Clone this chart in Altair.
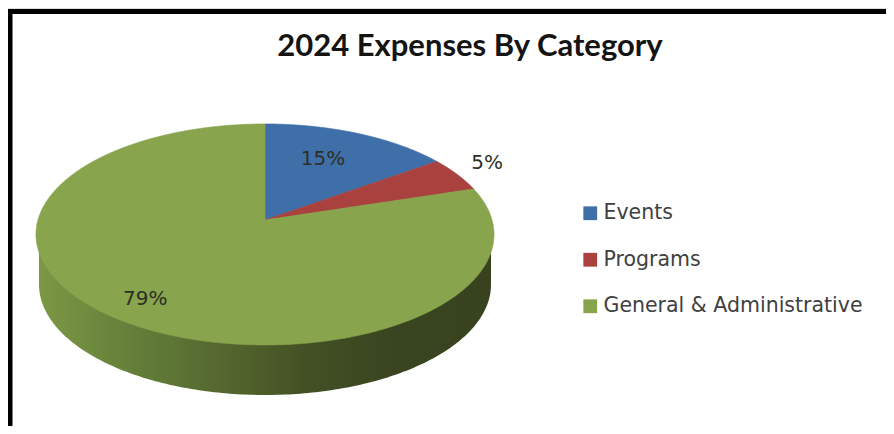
import math
import altair as alt
import pandas as pd

TITLE = "2024 Expenses By Category"
categories = ["Events", "Programs", "General & Administrative"]
percent_values = [15, 5, 79]
colors = ["#3f6fa8", "#a9423f", "#88a44c"]
label_turns = [0.068, 0.172, 0.60]    # where each label sits round the pie
label_radii = [0.665, 1.19, 0.82]     # how far out, in pie radii
side_stops = ["#7c9844", "#64803a", "#55682f", "#434f24", "#394420", "#38421e"]

# page-pixel extent of the drawing space
W, H = 878, 418
X0, Y0 = 8, 8
CX, CY = 265.0, 220.0
K, A, B = 0.131, 108.6, 227.0
DEPTH = 50.0
FACE_CY, FACE_RY = 234.5, 110.5
SIDE_RX = 226.0


def project(turn, r=1.0):
    a = turn * 2 * math.pi
    u, v = r * math.sin(a), r * math.cos(a)
    w = 1 + K * v
    return CX + B * u / w, CY - A * v / w


def wedge_rows(name, t0, t1):
    n = max(60, int((t1 - t0) * 1440))
    arc = [project(t0 + (t1 - t0) * i / n) for i in range(n + 1)]
    poly = [(CX, CY)] + arc
    grid = set(p[0] for p in arc)
    for x in (CX, arc[0][0], arc[-1][0]):
        grid.update([x - 1e-3, x + 1e-3])
    grid.update(p[0] + 1e-4 for p in arc)
    rows = []
    for x in sorted(grid):
        ys = []
        for (x1, y1), (x2, y2) in zip(poly, poly[1:] + poly[:1]):
            if (x1 <= x < x2) or (x2 <= x < x1):
                ys.append(y1 + (y2 - y1) * (x - x1) / (x2 - x1))
        if len(ys) >= 2:
            rows.append({"cat": name, "px": x, "top": min(ys), "bot": max(ys)})
    return rows


total = sum(percent_values)
wedges, turn = [], 0.0
for c, p in zip(categories, percent_values):
    wedges += wedge_rows(c, turn, turn + p / total)
    turn += p / total
wedge_df = pd.DataFrame(wedges)

side_rows = []
for i in range(0, 181):
    th = math.pi * i / 180
    side_rows.append({
        "px": CX - SIDE_RX * math.cos(th),
        "top": FACE_CY,
        "bot": FACE_CY + DEPTH + FACE_RY * math.sin(th),
    })
side_df = pd.DataFrame(side_rows)

label_rows = []
for p, t, r in zip(percent_values, label_turns, label_radii):
    x, y = project(t, r)
    label_rows.append({"txt": f"{p}%", "px": x, "py": y})
label_df = pd.DataFrame(label_rows)

frame_df = pd.DataFrame([
    {"px": 10.0, "px2": 886.0, "py": 11.5, "py2": 11.5},
    {"px": 10.0, "px2": 10.0, "py": 9.0, "py2": 426.0},
])

xs = alt.Scale(domain=[X0, X0 + W], range=[0, W])
ys = alt.Scale(domain=[Y0, Y0 + H], range=[0, H])
X = lambda f: alt.X(f, type="quantitative", scale=xs, axis=None)
Y = lambda f: alt.Y(f, type="quantitative", scale=ys, axis=None)

n = len(side_stops) - 1
side = alt.Chart(side_df).mark_area(
    opacity=1,
    fill=alt.Gradient(
        gradient="linear", x1=0, x2=1, y1=0, y2=0,
        stops=[alt.GradientStop(offset=i / n, color=c) for i, c in enumerate(side_stops)],
    ),
).encode(x=X("px"), y=Y("top"), y2=alt.Y2("bot"))

color = alt.Color(
    "cat:N",
    scale=alt.Scale(domain=categories, range=colors),
    sort=categories,
    legend=alt.Legend(
        title=None, orient="none", legendX=572, legendY=195,
        symbolType="square", symbolSize=190, symbolStrokeWidth=0, symbolOpacity=1, symbolOffset=0,
        labelFont="DejaVu Sans", labelFontSize=20.5, labelColor="#404040",
        labelOffset=3, rowPadding=25.5, labelLimit=320,
    ),
)
faces = alt.Chart(wedge_df).mark_area(opacity=1, strokeWidth=0.7).encode(
    x=X("px"), y=Y("top"), y2=alt.Y2("bot"), color=color,
    stroke=alt.Stroke("cat:N", scale=alt.Scale(domain=categories, range=colors), legend=None),
)

labels = alt.Chart(label_df).mark_text(
    font="DejaVu Sans", fontSize=20, color="#2b2f26", align="center", baseline="middle"
).encode(x=X("px"), y=Y("py"), text="txt:N")

frame = alt.Chart(frame_df).mark_rule(color="#000000", strokeWidth=5, clip=False).encode(
    x=X("px"), x2="px2:Q", y=Y("py"), y2="py2:Q"
)

chart = alt.layer(side, faces, labels, frame).properties(
    width=W, height=H, padding=0,
    autosize=alt.AutoSizeParams(type="none"),
    title=alt.TitleParams(
        TITLE, font="Lato", fontSize=31, fontWeight="bold", color="#141414",
        anchor="middle", frame="group", dx=23, dy=71, offset=0, baseline="middle",
    ),
).configure_view(stroke=None).configure(background="#ffffff")

chart.save("out.html", embed_options={"renderer": "svg", "actions": False})
